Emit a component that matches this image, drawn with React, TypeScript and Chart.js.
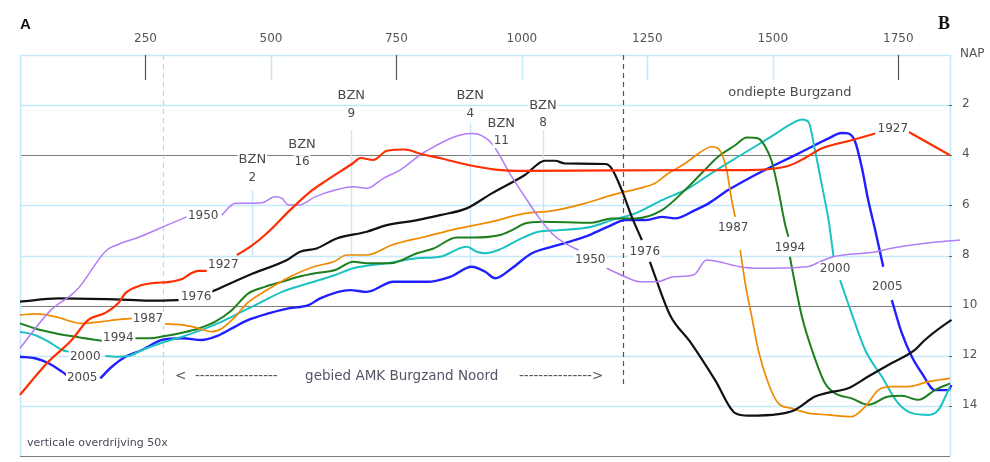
import { useEffect, useRef } from "react";
import { Chart, registerables } from "chart.js";

Chart.register(...registerables);

// ---- data: distance along profile (m) , depth (m NAP, positive down); null = gap for label
const years = ["1927", "1950", "1976", "1987", "1994", "2000", "2005"];

const s1927: [number, number | null][] = [
  [0, 13.56], [54, 12.29], [103, 11.37], [136, 10.57], [170, 10.29], [196, 9.9], [210, 9.5], [243, 9.18],
  [269, 9.09], [295, 9.06], [323, 8.94], [342, 8.7], [355, 8.61], [372, 8.61], [405, null], [432, 7.98],
  [459, 7.65], [492, 7.11], [538, 6.19], [578, 5.46], [611, 5.0], [664, 4.31], [678, 4.11], [704, 4.19],
  [731, 3.82], [767, 3.77], [801, 3.96], [840, 4.13], [893, 4.39], [947, 4.57], [1006, 4.62], [1200, 4.6],
  [1445, 4.59], [1530, 4.43], [1564, 4.11], [1597, 3.73], [1657, 3.4], [1704, 3.13], [1739, null],
  [1771, 3.07], [1853, 4.0],
];
const s1950: [number, number | null][] = [
  [0, 11.7], [60, 10.21], [113, 9.38], [173, 7.78], [193, 7.58], [239, 7.25], [293, 6.79], [332, 6.46],
  [365, null], [402, 6.39], [429, 5.92], [455, 5.92], [482, 5.9], [508, 5.66], [522, 5.72], [535, 5.99],
  [555, 5.99], [588, 5.66], [628, 5.39], [664, 5.26], [691, 5.32], [724, 4.92], [757, 4.59], [807, 3.86],
  [900, 3.13], [913, 3.16], [940, 3.53], [980, 4.86], [1006, 5.66], [1033, 6.46], [1060, 7.12], [1086, 7.52],
  [1113, 7.78], [1136, null], [1169, 8.51], [1206, 8.85], [1236, 9.05], [1269, 9.05], [1302, 8.85],
  [1342, 8.78], [1368, 8.18], [1435, 8.45], [1468, 8.51], [1568, 8.45], [1594, 8.25], [1620, 8.05],
  [1707, 7.85], [1734, 7.72], [1800, 7.52], [1873, 7.38],
];
const s1976: [number, number | null][] = [
  [0, 9.84], [77, 9.71], [190, 9.75], [256, 9.8], [316, 9.78], [350, null], [382, 9.45], [465, 8.71],
  [532, 8.18], [558, 7.85], [591, 7.72], [631, 7.32], [691, 7.05], [731, 6.79], [791, 6.59], [837, 6.39],
  [890, 6.12], [940, 5.52], [1006, 4.79], [1046, 4.22], [1066, 4.22], [1086, 4.33], [1166, 4.35],
  [1179, 4.53], [1199, 5.39], [1219, 6.46], [1239, 7.38], [1247, null], [1255, 8.25], [1295, 10.37],
  [1335, 11.44], [1385, 12.97], [1425, 14.29], [1451, 14.39], [1511, 14.33], [1544, 14.16], [1584, 13.63],
  [1611, 13.47], [1650, 13.3], [1690, 12.83], [1730, 12.37], [1783, 11.77], [1803, 11.37], [1856, 10.57],
  [1873, 10.37],
];
const s1987: [number, number | null][] = [
  [0, 10.37], [30, 10.33], [70, 10.44], [123, 10.71], [163, 10.64], [190, 10.57], [223, 10.51], [255, null],
  [289, 10.73], [323, 10.77], [349, 10.87], [382, 11.04], [402, 10.91], [429, 10.44], [452, 9.91],
  [492, 9.38], [538, 8.85], [585, 8.45], [625, 8.25], [651, 7.98], [691, 7.98], [741, 7.58], [807, 7.25],
  [874, 6.92], [940, 6.65], [1006, 6.32], [1060, 6.22], [1126, 5.92], [1179, 5.59], [1245, 5.26],
  [1265, 5.12], [1292, 4.72], [1325, 4.33], [1352, 3.93], [1378, 3.66], [1388, 3.69], [1398, 3.93],
  [1408, 4.59], [1418, 5.79], [1425, 6.46], [1430, null], [1435, 7.78], [1445, 9.11], [1458, 10.44],
  [1471, 11.77], [1491, 13.1], [1511, 13.9], [1538, 14.1], [1571, 14.29], [1611, 14.36], [1657, 14.43],
  [1684, 14.03], [1710, 13.37], [1737, 13.23], [1770, 13.23], [1810, 13.03], [1853, 12.9],
];
const s1994: [number, number | null][] = [
  [0, 10.71], [30, 10.91], [70, 11.1], [110, 11.24], [163, 11.4], [196, null], [230, 11.3], [256, 11.3],
  [289, 11.21], [323, 11.08], [356, 10.91], [389, 10.64], [422, 10.18], [455, 9.51], [488, 9.25],
  [522, 9.05], [555, 8.85], [588, 8.71], [628, 8.58], [664, 8.25], [691, 8.31], [738, 8.31], [791, 7.91],
  [824, 7.72], [870, 7.28], [903, 7.28], [957, 7.18], [980, 6.99], [1006, 6.72], [1040, 6.65],
  [1139, 6.69], [1179, 6.52], [1226, 6.52], [1279, 6.19], [1325, 5.39], [1358, 4.72], [1391, 4.06],
  [1425, 3.6], [1448, 3.29], [1471, 3.33], [1485, 3.66], [1498, 4.26], [1511, 5.39], [1524, 6.72],
  [1531, 7.25], [1532, null], [1534, 8.05], [1544, 9.11], [1558, 10.44], [1578, 11.77], [1604, 13.1],
  [1624, 13.5], [1657, 13.7], [1690, 13.96], [1730, 13.63], [1757, 13.6], [1790, 13.76], [1823, 13.37],
  [1853, 13.1],
];
const s2000: [number, number | null][] = [
  [0, 11.04], [30, 11.17], [57, 11.44], [84, 11.77], [97, 11.84], [130, null], [170, 12.01], [190, 12.04],
  [216, 12.01], [243, 11.77], [283, 11.48], [323, 11.24], [362, 10.97], [402, 10.64], [442, 10.24],
  [469, 9.98], [522, 9.45], [575, 9.11], [628, 8.78], [664, 8.51], [731, 8.31], [791, 8.11], [837, 8.05],
  [890, 7.65], [910, 7.85], [927, 7.91], [953, 7.78], [993, 7.38], [1033, 7.05], [1073, 6.99],
  [1139, 6.85], [1179, 6.59], [1226, 6.32], [1279, 5.79], [1332, 5.32], [1372, 4.79], [1425, 4.13],
  [1491, 3.33], [1544, 2.67], [1558, 2.57], [1571, 2.67], [1584, 3.8], [1597, 5.12], [1611, 6.59],
  [1621, 8.05], [1627, null], [1634, 8.98], [1657, 10.31], [1684, 11.77], [1717, 12.83], [1750, 13.9],
  [1777, 14.29], [1810, 14.36], [1830, 14.16], [1853, 13.23],
];
const s2005: [number, number | null][] = [
  [0, 12.04], [30, 12.1], [57, 12.3], [84, 12.64], [93, 12.77], [124, null], [160, 12.9], [183, 12.44],
  [210, 12.04], [243, 11.77], [283, 11.37], [323, 11.3], [362, 11.37], [389, 11.24], [422, 10.91],
  [455, 10.57], [495, 10.31], [535, 10.11], [575, 9.98], [598, 9.71], [658, 9.38], [691, 9.45],
  [744, 9.05], [811, 9.05], [857, 8.85], [900, 8.45], [927, 8.65], [947, 8.91], [980, 8.51], [1020, 7.91],
  [1073, 7.58], [1126, 7.25], [1172, 6.85], [1206, 6.59], [1245, 6.59], [1279, 6.46], [1305, 6.52],
  [1345, 6.19], [1372, 5.92], [1411, 5.39], [1458, 4.86], [1504, 4.39], [1558, 3.86], [1611, 3.33],
  [1637, 3.11], [1650, 3.13], [1664, 3.46], [1677, 4.46], [1690, 5.79], [1704, 6.99], [1720, 8.45],
  [1728, null], [1737, 9.78], [1757, 11.1], [1777, 12.04], [1797, 12.7], [1823, 13.37], [1850, 13.37],
  [1856, 13.17],
];
const seriesData = [s1927, s1950, s1976, s1987, s1994, s2000, s2005];

// in-line year labels: [year, distance, depth]
const yearLabels: [string, number, number][] = [
  ["1927", 405, 8.38], ["1927", 1739, 2.96],
  ["1950", 365, 6.43], ["1950", 1136, 8.18],
  ["1976", 351, 9.66], ["1976", 1245, 7.86],
  ["1987", 255, 10.53], ["1987", 1421, 6.91],
  ["1994", 196, 11.29], ["1994", 1534, 7.7],
  ["2000", 130, 12.05], ["2000", 1624, 8.54],
  ["2005", 124, 12.89], ["2005", 1728, 9.26],
];

// axes
const X_MAX = 1853;
const Y_MAX = 16;
const distTicks = [250, 500, 750, 1000, 1250, 1500, 1750];
const markedTicks = [250, 750, 1750];
const depthGrid = [0, 2, 4, 6, 8, 10, 12, 14, 16];
const strongDepths = [4, 10, 16];
const depthTickLabels = [2, 4, 6, 8, 10, 12, 14];

// BZN stations: name, distance, depth of label, guide line top/bottom depth
const bznNames = ["2", "16", "9", "4", "11", "8"];
const bznDist = [463, 562, 660, 897, 959, 1042];
const bznDepth = [4.19, 3.56, 1.64, 1.64, 2.72, 2.0];
const bznLineTop: (number | null)[] = [5.39, null, 3.0, 2.72, null, 3.0];
const bznLineBottom: (number | null)[] = [8.06, null, 8.38, 8.46, null, 7.5];

// area limits
const amkStart = 285;
const amkEnd = 1202;
const amkDepth = 13.2;

const lineColors = ["#ff2e00", "#b27cf5", "#111111", "#f08a00", "#1e7f1e", "#1cc2c2", "#1f1fff"];
const lineWidths = [2.2, 1.5, 2.2, 1.7, 2.0, 2.0, 2.4];

const FONT = '"DejaVu Sans", Verdana, sans-serif';

export default function App() {
  const ref = useRef<HTMLCanvasElement>(null);

  useEffect(() => {
    const canvas = ref.current;
    if (!canvas) return;

    const labelBox = (ctx: CanvasRenderingContext2D, text: string, x: number, y: number, align: CanvasTextAlign) => {
      const w = ctx.measureText(text).width;
      let left = x - w / 2;
      if (align === "left") left = x;
      if (align === "right") left = x - w;
      ctx.fillStyle = "#ffffff";
      ctx.fillRect(left - 1, y - 7, w + 2, 14);
      ctx.fillStyle = "#4a4a4a";
      ctx.textAlign = align;
      ctx.fillText(text, x, y);
    };

    const decor = {
      id: "decor",
      beforeDraw(chart: any) {
        const ctx = chart.ctx as CanvasRenderingContext2D;
        ctx.save();
        ctx.fillStyle = "#ffffff";
        ctx.fillRect(0, 0, chart.width, chart.height);
        ctx.restore();
      },
      beforeDatasetsDraw(chart: any) {
        const ctx = chart.ctx as CanvasRenderingContext2D;
        const xs = chart.scales.x;
        const ys = chart.scales.y;
        const a = chart.chartArea;
        ctx.save();
        // horizontal grid
        depthGrid.forEach((d) => {
          const y = Math.round(ys.getPixelForValue(d)) + 0.5;
          const strong = strongDepths.includes(d);
          ctx.strokeStyle = strong ? "#7c7c7c" : "#c4e9fb";
          ctx.lineWidth = strong ? 1.2 : 1.6;
          ctx.beginPath();
          ctx.moveTo(a.left, y);
          ctx.lineTo(a.right, y);
          ctx.stroke();
        });
        // side borders
        ctx.strokeStyle = "#c4e9fb";
        ctx.lineWidth = 1.6;
        [0, X_MAX].forEach((v) => {
          const x = Math.round(xs.getPixelForValue(v)) + 0.5;
          ctx.beginPath();
          ctx.moveTo(x, ys.getPixelForValue(0));
          ctx.lineTo(x, ys.getPixelForValue(Y_MAX));
          ctx.stroke();
        });
        // top distance ticks
        distTicks.forEach((v) => {
          const x = Math.round(xs.getPixelForValue(v)) + 0.5;
          const marked = markedTicks.includes(v);
          ctx.strokeStyle = marked ? "#555555" : "#c4e9fb";
          ctx.lineWidth = marked ? 1.2 : 1.6;
          ctx.beginPath();
          ctx.moveTo(x, ys.getPixelForValue(0));
          ctx.lineTo(x, ys.getPixelForValue(1.0));
          ctx.stroke();
        });
        // small marks on right axis
        ctx.strokeStyle = "#666666";
        ctx.lineWidth = 1;
        depthTickLabels.forEach((d) => {
          const y = Math.round(ys.getPixelForValue(d)) + 0.5;
          ctx.beginPath();
          ctx.moveTo(a.right - 1, y);
          ctx.lineTo(a.right + 2, y);
          ctx.stroke();
        });
        // BZN guide lines
        bznDist.forEach((v, i) => {
          const t = bznLineTop[i];
          const b = bznLineBottom[i];
          if (t === null || b === null) return;
          const x = Math.round(xs.getPixelForValue(v)) + 0.5;
          ctx.strokeStyle = "#c4e9fb";
          ctx.lineWidth = 1.4;
          ctx.beginPath();
          ctx.moveTo(x, ys.getPixelForValue(t));
          ctx.lineTo(x, ys.getPixelForValue(b));
          ctx.stroke();
        });
        // AMK area boundaries
        ctx.setLineDash([5, 4]);
        ctx.lineWidth = 1.2;
        ctx.strokeStyle = "#a9dcf5";
        let x = Math.round(xs.getPixelForValue(amkStart)) + 0.5;
        ctx.beginPath();
        ctx.moveTo(x, ys.getPixelForValue(0));
        ctx.lineTo(x, ys.getPixelForValue(amkDepth));
        ctx.stroke();
        ctx.strokeStyle = "#555555";
        x = Math.round(xs.getPixelForValue(amkEnd)) + 0.5;
        ctx.beginPath();
        ctx.moveTo(x, ys.getPixelForValue(0));
        ctx.lineTo(x, ys.getPixelForValue(amkDepth));
        ctx.stroke();
        ctx.setLineDash([]);
        ctx.restore();
      },
      afterDatasetsDraw(chart: any) {
        const ctx = chart.ctx as CanvasRenderingContext2D;
        const xs = chart.scales.x;
        const ys = chart.scales.y;
        const a = chart.chartArea;
        ctx.save();
        ctx.textBaseline = "middle";
        // year labels
        ctx.font = `12px ${FONT}`;
        yearLabels.forEach(([t, d, z]) => {
          labelBox(ctx, t, xs.getPixelForValue(d), ys.getPixelForValue(z), "center");
        });
        // BZN labels
        bznNames.forEach((n, i) => {
          const x = xs.getPixelForValue(bznDist[i]);
          const y = ys.getPixelForValue(bznDepth[i]);
          ctx.font = `13px ${FONT}`;
          labelBox(ctx, "BZN", x, y, "center");
          ctx.font = `12px ${FONT}`;
          labelBox(ctx, n, x, y + 18, "center");
        });
        // region texts
        ctx.fillStyle = "#4a4a4a";
        ctx.font = `13px ${FONT}`;
        ctx.textAlign = "center";
        ctx.fillText("ondiepte Burgzand", xs.getPixelForValue(1534), ys.getPixelForValue(1.52));
        ctx.fillStyle = "#555566";
        ctx.font = `13.5px ${FONT}`;
        ctx.textAlign = "left";
        ctx.fillText("<  " + "-".repeat(17), xs.getPixelForValue(amkStart) + 12, ys.getPixelForValue(12.83));
        ctx.fillText("gebied AMK Burgzand Noord", xs.getPixelForValue(568), ys.getPixelForValue(12.83));
        ctx.textAlign = "right";
        ctx.fillText("-".repeat(15) + ">", xs.getPixelForValue(amkEnd) - 20, ys.getPixelForValue(12.83));
        ctx.textAlign = "left";
        ctx.font = `11px ${FONT}`;
        ctx.fillStyle = "#4a4a5a";
        ctx.fillText("verticale overdrijving 50x", a.left + 7, ys.getPixelForValue(15.48));
        // top distance tick labels
        ctx.font = `12px ${FONT}`;
        ctx.fillStyle = "#555555";
        ctx.textAlign = "center";
        distTicks.forEach((v) => {
          ctx.fillText(String(v), xs.getPixelForValue(v), a.top - 16);
        });
        // right depth labels
        ctx.textAlign = "left";
        depthTickLabels.forEach((d) => {
          ctx.fillText(String(d), a.right + 12, ys.getPixelForValue(d) - 1);
        });
        ctx.fillText("NAP", a.right + 10, a.top - 1);
        // A and B
        ctx.fillStyle = "#111111";
        ctx.font = `bold 15px "Liberation Sans", Arial, sans-serif`;
        ctx.textAlign = "left";
        ctx.fillText("A", a.left, a.top - 30);
        ctx.font = `bold 18px "Liberation Serif", "Times New Roman", serif`;
        ctx.textAlign = "right";
        ctx.fillText("B", a.right, a.top - 31);
        ctx.restore();
      },
    };

    const chart = new Chart(canvas, {
      type: "line",
      data: {
        datasets: seriesData.map((s, i) => ({
          label: years[i],
          data: s.map(([x, y]) => ({ x, y })),
          borderColor: lineColors[i],
          borderWidth: lineWidths[i],
          pointRadius: 0,
          fill: false,
          spanGaps: false,
          cubicInterpolationMode: "monotone" as const,
          clip: false as any,
        })),
      },
      options: {
        animation: false,
        responsive: false,
        maintainAspectRatio: false,
        layout: { padding: { left: 20, right: 40, top: 55, bottom: 6 } },
        scales: {
          x: { type: "linear", min: 0, max: X_MAX, display: false },
          y: { type: "linear", min: 0, max: Y_MAX, reverse: true, display: false },
        },
        plugins: { legend: { display: false }, tooltip: { enabled: false } },
      },
      plugins: [decor],
    });
    return () => chart.destroy();
  }, []);

  return (
    <div style={{ position: "fixed", left: 0, top: 0, width: 990, height: 462, background: "#fff" }}>
      <canvas ref={ref} width={990} height={462} style={{ display: "block", width: 990, height: 462 }} />
    </div>
  );
}
